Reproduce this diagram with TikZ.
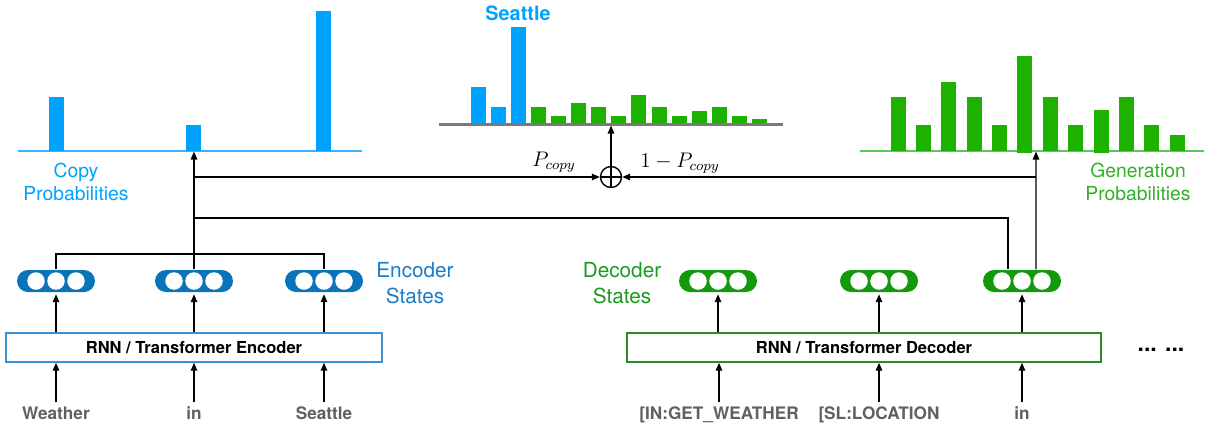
\documentclass[tikz,border=0pt]{standalone}
\usepackage{fontspec}
\setmainfont{TeX Gyre Heros}
\usetikzlibrary{arrows.meta,calc}
\definecolor{cblue}{HTML}{00A2FF}
\definecolor{cbase}{HTML}{3AB0FF}
\definecolor{eblue}{HTML}{0B73BA}
\definecolor{eboxblue}{HTML}{3A92D2}
\definecolor{gbar}{HTML}{1DB100}
\definecolor{gbase}{HTML}{5CC85C}
\definecolor{dgreen}{HTML}{129A0A}
\definecolor{dboxgreen}{HTML}{2B8B2B}
\definecolor{glabel}{HTML}{33AF2A}
\definecolor{dlabel}{HTML}{1C9A1C}
\definecolor{elabel}{HTML}{1C7DC6}
\definecolor{intext}{HTML}{606060}
\definecolor{axgray}{HTML}{7A7A7A}
\begin{document}
\begin{tikzpicture}[x=0.2mm,y=-0.2mm,
  line width=0.8pt,
  arr/.style={-{Triangle[length=1.6mm,width=1.3mm]}},
  pill/.style={rounded corners=2.2mm, minimum width=15.6mm, minimum height=4.4mm, inner sep=0pt},
  encpill/.style={pill, fill=eblue},
  decpill/.style={pill, fill=dgreen},
  netbox/.style={draw, line width=0.8pt, minimum height=5.8mm, inner sep=0pt, font=\bfseries\fontsize{9.4}{11}\selectfont},
  intok/.style={font=\bfseries\fontsize{9.8}{11}\selectfont, text=intext, inner sep=1pt, text height=7pt, text depth=1.5pt},
  chartlbl/.style={align=center, font=\fontsize{11}{12.8}\selectfont},
  statelbl/.style={align=center, font=\fontsize{11.8}{15.2}\selectfont},
  mathlbl/.style={font=\fontsize{12}{14}\selectfont, inner sep=0pt},
]
\useasboundingbox (0,0) rectangle (1207,430);

% ---------- copy probabilities chart ----------
\draw[cbase, line width=1pt] (18,151) -- (362,151);
\foreach \x/\t in {49/97,186/125,316/11}
  \fill[cblue] (\x,\t) rectangle (\x+15,151);
\node[chartlbl, text=cblue] (copylbl) at (76,182) {Copy\\Probabilities};

% ---------- mixed chart ----------
\foreach \x/\t in {471/87,491/107,511/27}
  \fill[cblue] (\x,\t) rectangle (\x+15,124);
\foreach \x/\t in {531/107,551/116,571/103,591/107,611/116,631/95,652/107,672/116,692/111,712/107,732/116,752/119}
  \fill[gbar] (\x,\t) rectangle (\x+15,124);
\draw[axgray, line width=1.2pt] (439,124.5) -- (783,124.5);
\node[font=\bfseries\fontsize{11.3}{13}\selectfont, text=cblue] (seattle) at (518,13) {Seattle};

% ---------- generation probabilities chart ----------
\draw[gbase, line width=1pt] (860,151) -- (1204,151);
\foreach \x/\t/\b in {891/97/151,916/125/151,941/82/151,967/97/151,992/125/151,1017/56/153,1043/97/151,1068/125/151,1094/110/153,1119/97/151,1144/125/151,1170/135/151}
  \fill[gbar] (\x,\t) rectangle (\x+15,\b);
\node[chartlbl, text=glabel] (genlbl) at (1138,182) {Generation\\Probabilities};

% ---------- encoder ----------
\node[netbox, draw=eboxblue, minimum width=75.2mm] (enc) at (194,347.5) {RNN / Transformer Encoder};
\node[encpill] (e1) at (56,281) {};
\node[encpill] (e2) at (194,281) {};
\node[encpill] (e3) at (324,281) {};
\node[statelbl, text=elabel] (enclbl) at (415,283) {Encoder\\States};
\node[intok] (w1) at (56,415) {Weather};
\node[intok] (w2) at (194,415) {in};
\node[intok] (w3) at (324,415) {Seattle};

% ---------- decoder ----------
\node[netbox, draw=dboxgreen, minimum width=94.8mm] (dec) at (864,347.5) {RNN / Transformer Decoder};
\node[decpill] (d1) at (718,281) {};
\node[decpill] (d2) at (879,281) {};
\node[decpill] (d3) at (1022,281) {};
\node[statelbl, text=dlabel] (declbl) at (622,283) {Decoder\\States};
\node[intok] (t1) at (719,415) {[IN:GET\_WEATHER};
\node[intok] (t2) at (879,415) {[SL:LOCATION};
\node[intok] (t3) at (1022,415) {in};
\node[font=\bfseries\fontsize{13}{15}\selectfont] (dots) at (1161,350) {... ...};

% circles inside the state pills
\foreach \p in {e1,e2,e3,d1,d2,d3}
  \foreach \dx in {-4mm,0mm,4mm}
    \fill[white] ([xshift=\dx]\p.center) circle[radius=1.75mm];

% ---------- inputs and state arrows ----------
\foreach \w/\s in {w1/e1,w2/e2,w3/e3}{
  \draw[arr, shorten <=0.6mm] (\w.north) -- (enc.south -| \w);
  \draw[arr] (enc.north -| \s) -- ([yshift=-0.3mm]\s.south);
}
\foreach \w/\s in {t1/d1,t2/d2,t3/d3}{
  \draw[arr, shorten <=0.6mm] (\w.north) -- (dec.south -| \w);
  \draw[arr] (dec.north -| \s) -- ([yshift=-0.3mm]\s.south);
}

% ---------- mixing ----------
\node[draw, circle, minimum size=4.2mm, inner sep=0pt, line width=0.8pt,
  path picture={\draw[line width=0.8pt] (path picture bounding box.north) -- (path picture bounding box.south)
   (path picture bounding box.west) -- (path picture bounding box.east);}] (oplus) at (611,177) {};
\node[mathlbl] (pc) at (554,162) {$P_{copy}$};
\node[mathlbl] (opc) at (680,163) {$1-P_{copy}$};

\coordinate (ej) at (194,254);
\coordinate (hj) at (194,218);
\coordinate (cj) at (194,177);
\coordinate (copyin) at (194,151.5);
\coordinate (genin) at (1036,151.5);
\coordinate (gj) at (1036,177);
\coordinate (mixin) at (611,125.5);

\draw (e1.north) |- (ej) -| (e3.north);
\draw (e2.north) -- (ej);
\draw[arr] (ej) -- (copyin);
\draw[arr] (cj) -- (oplus.west);
\draw (hj) -| ([xshift=-2.8mm]d3.north);
\draw[arr] ([xshift=2.8mm]d3.north) -- (genin);
\draw[arr] (gj) -- (oplus.east);
\draw[arr] (oplus.north) -- (mixin);
\end{tikzpicture}
\end{document}
